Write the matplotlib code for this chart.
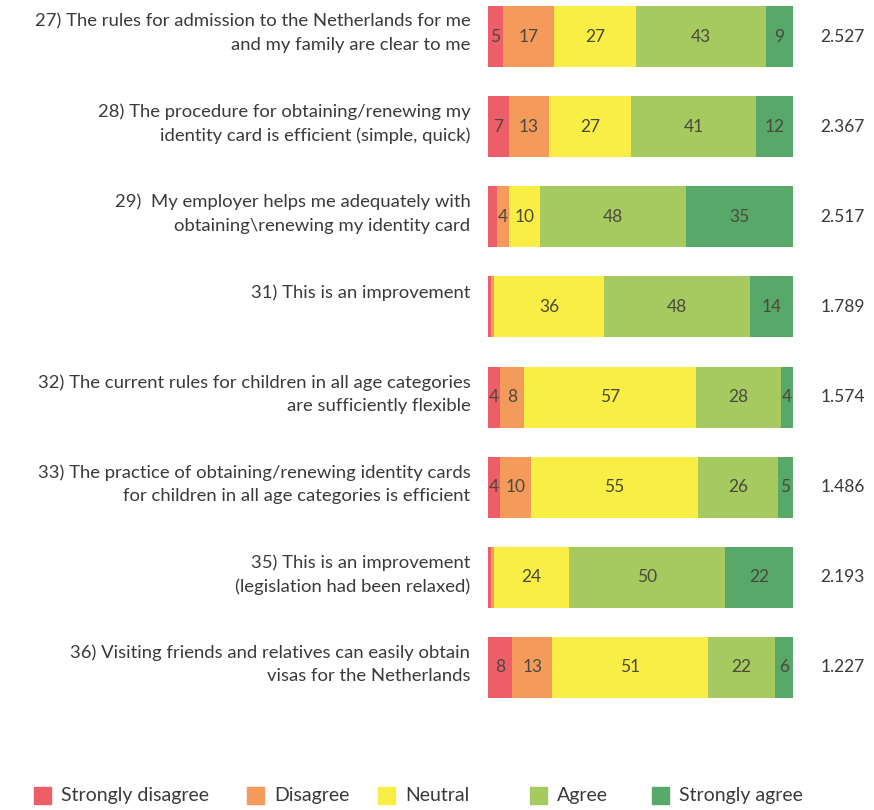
import matplotlib
matplotlib.use("Agg")
import matplotlib.pyplot as plt
from matplotlib.patches import Rectangle
import numpy as np

questions = [
    "27) The rules for admission to the Netherlands for me\nand my family are clear to me",
    "28) The procedure for obtaining/renewing my\nidentity card is efficient (simple, quick)",
    "29)  My employer helps me adequately with\nobtaining\\renewing my identity card",
    "31) This is an improvement",
    "32) The current rules for children in all age categories\nare sufficiently flexible",
    "33) The practice of obtaining/renewing identity cards\nfor children in all age categories is efficient",
    "35) This is an improvement\n(legislation had been relaxed)",
    "36) Visiting friends and relatives can easily obtain\nvisas for the Netherlands",
]
categories = ["Strongly disagree", "Disagree", "Neutral", "Agree", "Strongly agree"]
strongly_disagree = [5, 7, 3, 1, 4, 4, 1, 8]
disagree = [17, 13, 4, 1, 8, 10, 1, 13]
neutral = [27, 27, 10, 36, 57, 55, 24, 51]
agree = [43, 41, 48, 48, 28, 26, 50, 22]
strongly_agree = [9, 12, 35, 14, 4, 5, 22, 6]
scores = ["2.527", "2.367", "2.517", "1.789", "1.574", "1.486", "2.193", "1.227"]

colors = ["#EE5E68", "#F49B5C", "#F9EE45", "#A6CA60", "#58A86A"]
text_color = "#3a3a3a"
num_color = "#4a4a3c"
font = "Lato"

W, H = 874, 810
fig = plt.figure(figsize=(W / 100, H / 100), dpi=100)
ax = fig.add_axes([488 / W, 1 - 698 / H, 305 / W, 692 / H])

data = np.array([strongly_disagree, disagree, neutral, agree, strongly_agree], dtype=float)
totals = data.sum(axis=0)
widths = data / totals * 100
n = len(questions)
y = np.arange(n)
bar_h = 0.678
left = np.zeros(n)
for k in range(len(categories)):
    ax.barh(y, widths[k], left=left, height=bar_h, color=colors[k], edgecolor="none")
    for i in range(n):
        v = data[k, i]
        if v >= 4:
            ax.text(left[i] + widths[k, i] / 2, y[i], f"{int(v)}", ha="center", va="center",
                    fontsize=12.5, color=num_color, family=font)
    left += widths[k]

ax.set_xlim(0, 100)
ax.set_ylim(n - 1 + bar_h / 2, -bar_h / 2)
ax.axis("off")

for i in range(n):
    ax.text(-0.058, y[i] - 0.255, questions[i], transform=ax.get_yaxis_transform(),
            ha="right", va="top", fontsize=13.3, color=text_color, family=font, linespacing=1.55)
    ax.text(1.089, y[i], scores[i], transform=ax.get_yaxis_transform(),
            ha="left", va="center", fontsize=12.5, color=text_color, family=font)

# legend
leg_x = [34, 247, 378, 530, 652]
leg_y = 795
sq = 17
for k, name in enumerate(categories):
    fig.patches.append(Rectangle((leg_x[k] / W, 1 - (leg_y + sq / 2) / H), sq / W, sq / H,
                                 transform=fig.transFigure, color=colors[k], figure=fig))
    fig.text((leg_x[k] + sq + 10) / W, 1 - (leg_y + 6) / H, name, ha="left", va="baseline",
             fontsize=14, color=text_color, family=font)

fig.savefig("out.png", dpi=100, facecolor="white")
